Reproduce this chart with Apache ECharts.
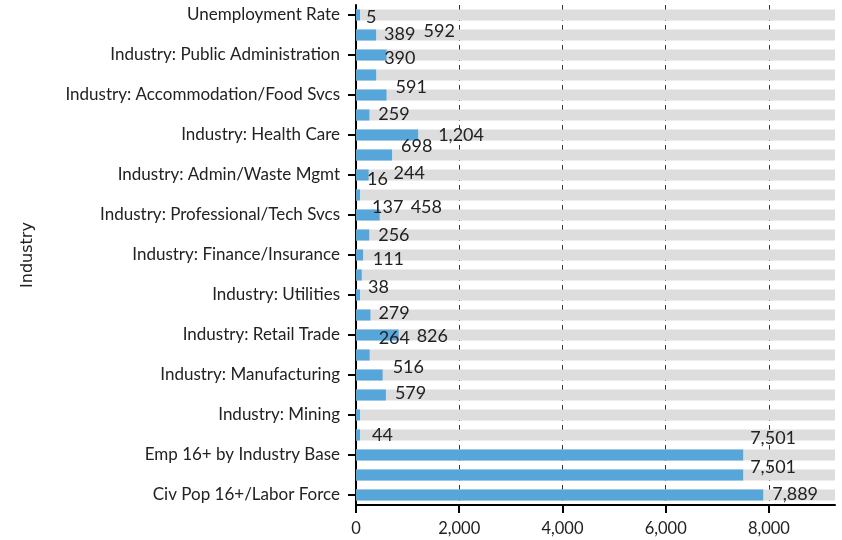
<!DOCTYPE html>
<html>
<head>
<meta charset="utf-8">
<script src="https://cdn.jsdelivr.net/npm/echarts@6/dist/echarts.min.js"></script>
<style>
  html, body { margin: 0; padding: 0; background: #fff; }
  #industry-chart { width: 842px; height: 540px; }
</style>
</head>
<body>
<div id="industry-chart"></div>
<script>
// categories listed bottom to top (ECharts category order)
const categories = [
  "Civ Pop 16+/Labor Force",
  "Civ Pop 16+ Employed",
  "Emp 16+ by Industry Base",
  "Industry: Agriculture/Forestry",
  "Industry: Mining",
  "Industry: Construction",
  "Industry: Manufacturing",
  "Industry: Wholesale Trade",
  "Industry: Retail Trade",
  "Industry: Transportation/Warehousing",
  "Industry: Utilities",
  "Industry: Information",
  "Industry: Finance/Insurance",
  "Industry: Real Estate",
  "Industry: Professional/Tech Svcs",
  "Industry: Management",
  "Industry: Admin/Waste Mgmt",
  "Industry: Educational Svcs",
  "Industry: Health Care",
  "Industry: Arts/Entertainment",
  "Industry: Accommodation/Food Svcs",
  "Industry: Other Services",
  "Industry: Public Administration",
  "Unemployed",
  "Unemployment Rate",
];
const values = [
  7889, 7501, 7501, 44, 0, 579, 516, 264, 826, 279, 38, 111, 137,
  256, 458, 16, 244, 698, 1204, 259, 591, 390, 592, 389, 5,
];
// value label nudges [dx, dy], same order as values
const labelShift = [
  [4, -1], [2, -8], [2, -17], [7, 0], [0, 0], [4, -2], [5, -8], [4, -17],
  [13, 1], [3, -2], [3, -8], [6, -16], [4, -48], [4, 0], [26, -8], [2, -16],
  [20, -2], [4, -9], [15, 0], [4, -1], [4, -8], [3, -17], [32, -24], [3, -1],
  [1, 2],
];

const fontFamily = "Lato, 'Noto Sans', sans-serif";

const chart = echarts.init(document.getElementById("industry-chart"));
const option = {
  animation: false,
  grid: { left: 356, right: 7, top: 5, bottom: 35, containLabel: false },
  xAxis: {
    type: "value",
    min: 0,
    max: 9280,
    interval: 2000,
    axisLine: { show: true, lineStyle: { color: "#000", width: 2 } },
    axisTick: { show: true, length: 8, lineStyle: { color: "#000", width: 2 } },
    axisLabel: {
      color: "#222",
      fontSize: 16.5,
      fontFamily,
      margin: 15,
      showMaxLabel: false,
      formatter: (v) => v.toLocaleString("en-US"),
    },
    splitLine: {
      show: true,
      showMinLine: false,
      showMaxLine: false,
      lineStyle: { color: "#333", type: [6, 4], width: 1 },
    },
  },
  yAxis: {
    type: "category",
    data: categories,
    name: "Industry",
    nameLocation: "middle",
    nameGap: 320,
    nameTextStyle: { color: "#222", fontSize: 16, fontFamily: "'DejaVu Sans', sans-serif" },
    axisLine: { show: true, lineStyle: { color: "#000", width: 2 } },
    axisTick: { show: true, alignWithLabel: true, length: 8, lineStyle: { color: "#000", width: 2 } },
    axisLabel: {
      interval: 1,
      color: "#222",
      fontSize: 17,
      fontFamily,
      margin: 16,
      padding: [3, 0, 0, 0],
    },
    splitLine: { show: false },
  },
  series: [
    {
      type: "bar",
      barWidth: 11,
      barMinHeight: 4,
      showBackground: true,
      backgroundStyle: { color: "#dddddd" },
      itemStyle: { color: "#56a6da" },
      data: values.map((v, i) => ({
        value: v,
        label: { offset: labelShift[i] },
      })),
      label: {
        show: true,
        position: "right",
        distance: 5,
        color: "#222",
        fontSize: 18,
        fontFamily,
        formatter: (p) => (p.value ? p.value.toLocaleString("en-US") : ""),
      },
    },
  ],
};
chart.setOption(option);
</script>
</body>
</html>
